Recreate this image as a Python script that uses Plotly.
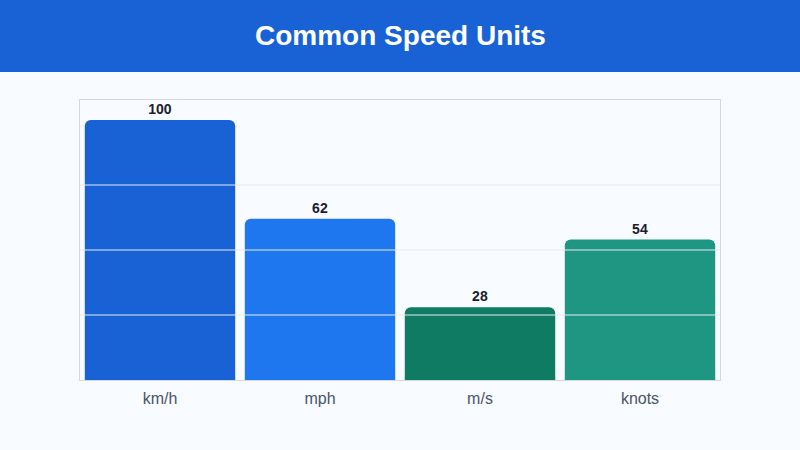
import plotly.graph_objects as go

categories = ["km/h", "mph", "m/s", "knots"]
values = [100, 62, 28, 54]
bar_colors = ["#1862d6", "#1f77f0", "#0f7b62", "#1f9682"]
grid_values = [25, 50, 75]
title_text = "Common Speed Units"

W, H = 800, 450
M_T, M_B, M_L, M_R = 100, 70, 80, 80
plot_h = H - M_T - M_B

fig = go.Figure(
    go.Bar(
        x=categories,
        y=values,
        marker=dict(color=bar_colors, line=dict(width=0)),
        text=[str(v) for v in values],
        textposition="outside",
        textfont=dict(family="Liberation Sans, Arial, sans-serif", size=14, color="#1a202c", weight="bold"),
        cliponaxis=False,
        hoverinfo="skip",
    )
)

shapes = []
# header banner
shapes.append(dict(type="rect", xref="paper", yref="paper",
                   x0=-M_L / (W - M_L - M_R), x1=1 + M_R / (W - M_L - M_R),
                   y0=1 + (M_T - 72) / plot_h, y1=1 + M_T / plot_h,
                   fillcolor="#1862d6", line=dict(width=0), layer="below"))
# gridlines above bars
for g in grid_values:
    shapes.append(dict(type="line", xref="paper", yref="y", x0=0, x1=1, y0=g, y1=g,
                       line=dict(color="#e6ebf1", width=1), layer="above"))

fig.update_layout(
    width=W, height=H,
    margin=dict(t=M_T, b=M_B, l=M_L, r=M_R),
    paper_bgcolor="#f8fbff",
    plot_bgcolor="#f8fbff",
    bargap=0.06,
    barcornerradius=6,
    showlegend=False,
    shapes=shapes,
    annotations=[dict(text="<b>" + title_text + "</b>", xref="paper", yref="paper",
                      x=0.5, y=1 + (M_T - 36) / plot_h, xanchor="center", yanchor="middle",
                      showarrow=False,
                      font=dict(family="Liberation Sans, Arial, sans-serif", size=28, color="white"))],
    xaxis=dict(showgrid=False, showline=True, mirror=True, linecolor="#d4d8de", linewidth=1,
               ticks="", ticklabelstandoff=4,
               tickfont=dict(family="Liberation Sans, Arial, sans-serif", size=16, color="#4a5568")),
    yaxis=dict(range=[0, 107.7], showgrid=False, showticklabels=False, showline=True, mirror=True,
               linecolor="#d4d8de", linewidth=1, zeroline=False, ticks=""),
)

fig.write_html("out.html")
